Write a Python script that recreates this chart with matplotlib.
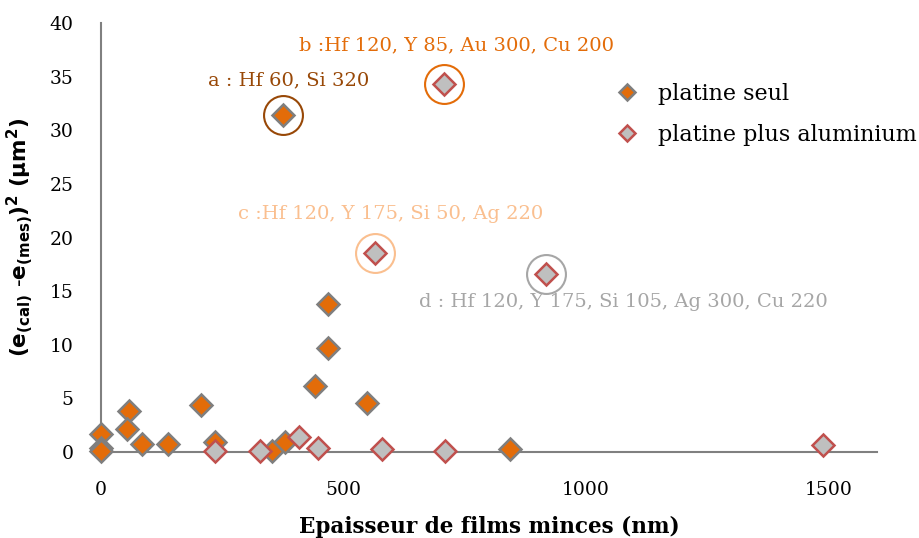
import matplotlib.pyplot as plt

# platine seul (orange)
seul_x = [0, 0, 0, 58, 53, 84, 139, 206, 235, 352, 380, 376, 441, 469, 469, 548, 844]
seul_y = [1.7, 0.4, 0.1, 3.8, 2.1, 0.75, 0.75, 4.4, 0.95, 0.05, 0.9, 31.4, 6.15, 13.8, 9.7, 4.6, 0.25]

# platine plus aluminium (gris)
alu_x = [234, 328, 409, 447, 579, 710, 1489, 708, 565, 918]
alu_y = [0.12, 0.12, 1.4, 0.4, 0.25, 0.05, 0.65, 34.3, 18.6, 16.6]

# points annotés : (serie, indice, texte, couleur, position du texte)
notes = [
    ('seul', 11, 'a : Hf 60, Si 320', '#984807', (386, 34.7)),
    ('alu', 7, 'b :Hf 120, Y 85, Au 300, Cu 200', '#E36C09', (733, 37.9)),
    ('alu', 8, 'c :Hf 120, Y 175, Si 50, Ag 220', '#FABF8F', (598, 22.2)),
    ('alu', 9, 'd : Hf 120, Y 175, Si 105, Ag 300, Cu 220', '#A6A6A6', (1077, 14.0)),
]

plt.rcParams['font.family'] = 'DejaVu Serif'

fig = plt.figure(figsize=(9.19, 5.38), dpi=100)
ax = fig.add_axes([0.110, 0.160, 0.844, 0.797])

ax.plot(seul_x, seul_y, 'D', ms=11, mfc='#E36C09', mec='#7F7F7F', mew=1.8,
        ls='none', clip_on=False, label='platine seul', zorder=3)
ax.plot(alu_x, alu_y, 'D', ms=11, mfc='#BFBFBF', mec='#C0504D', mew=1.8,
        ls='none', clip_on=False, label='platine plus aluminium', zorder=4)

for serie, i, txt, col, pos in notes:
    xs, ys = (seul_x, seul_y) if serie == 'seul' else (alu_x, alu_y)
    ax.plot(xs[i], ys[i], 'o', ms=28, mfc='none', mec=col, mew=1.5, zorder=5)
    ax.text(pos[0], pos[1], txt, color=col, fontsize=14, ha='center', va='center')

ax.set_xlim(0, 1600)
ax.set_ylim(0, 40)
ax.set_xticks([0, 500, 1000, 1500])
ax.set_yticks(range(0, 41, 5))
ax.tick_params(length=0, labelsize=13.5)
ax.tick_params(axis='y', pad=20)
ax.tick_params(axis='x', pad=21)
for s in ['top', 'right']:
    ax.spines[s].set_visible(False)
for s in ['left', 'bottom']:
    ax.spines[s].set_color('#808080')
    ax.spines[s].set_linewidth(1.5)

ax.set_xlabel('Epaisseur de films minces (nm)', fontsize=15.5, fontweight='bold', labelpad=12)
ax.set_ylabel(r'$\mathbf{(e_{(cal)}\ \text{-}e_{(mes)})^2\ (\mu m^2)}$', fontsize=15.5)
ax.yaxis.set_label_coords(-0.085, 0.5)

leg = ax.legend(loc='upper left', bbox_to_anchor=(0.668, 0.846), bbox_transform=fig.transFigure,
                frameon=False, borderaxespad=0, borderpad=0,
                fontsize=16, markerscale=0.7, handlelength=1.2, handletextpad=0.77,
                labelspacing=0.85)

fig.savefig('out.png', dpi=100)
